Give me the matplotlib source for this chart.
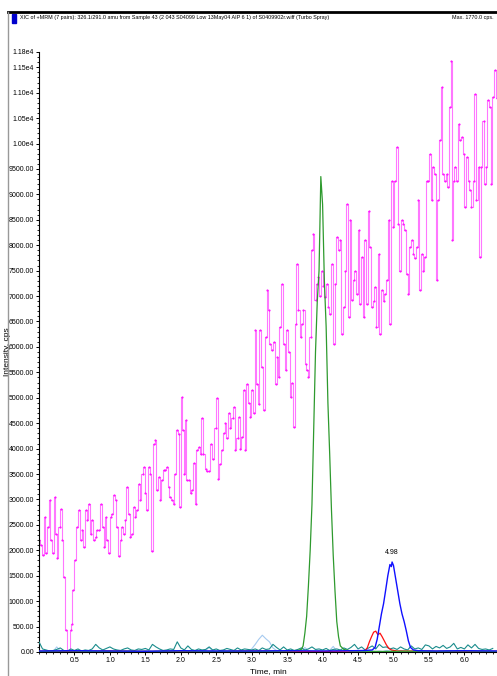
import numpy as np
import matplotlib
matplotlib.use("Agg")
from matplotlib import pyplot as plt
from matplotlib import font_manager
from matplotlib.ticker import MultipleLocator, FixedLocator, FixedFormatter

# narrow face if there is one, plain Liberation otherwise
try:
    font_manager.findfont('Liberation Sans Narrow', fallback_to_default=False)
    face = 'Liberation Sans Narrow'
except Exception:
    face = 'Liberation Sans'
plt.rcParams['font.family'] = [face, 'DejaVu Sans']

title = "XIC of +MRM (7 pairs): 326.1/291.0 amu from Sample 43 (2 043 S04099 Low 13May04 AIP 6 1) of S0409902r.wiff (Turbo Spray)"
max_text = "Max. 1770.0 cps."

# magenta trace (time in min, intensity in cps)
mag_t = [0.00,0.03,0.05,0.08,0.10,0.13,0.15,0.17,0.20,0.22,0.24,0.26,0.29,0.31,0.33,0.35,0.38,0.40,0.42,0.45,
         0.46,0.48,0.51,0.54,0.56,0.59,0.61,0.63,0.66,0.68,0.70,0.73,0.75,0.77,0.80,0.82,0.85,0.88,0.90,0.92,
         0.94,0.96,0.99,1.01,1.03,1.06,1.08,1.10,1.13,1.15,1.17,1.20,1.22,1.24,1.27,1.29,1.31,1.34,1.36,1.38,
         1.41,1.43,1.46,1.48,1.50,1.53,1.55,1.57,1.60,1.62,1.64,1.67,1.69,1.71,1.74,1.76,1.78,1.81,1.83,1.85,
         1.88,1.90,1.92,1.95,1.97,1.99,2.01,2.03,2.05,2.07,2.09,2.11,2.14,2.16,2.18,2.21,2.23,2.25,2.28,2.30,
         2.32,2.35,2.37,2.40,2.43,2.46,2.49,2.51,2.53,2.56,2.58,2.61,2.63,2.65,2.68,2.70,2.73,2.75,2.77,2.80,
         2.82,2.84,2.87,2.89,2.91,2.94,2.96,2.98,3.01,3.03,3.05,3.07,3.10,3.12,3.15,3.17,3.20,3.22,3.24,3.26,
         3.29,3.31,3.34,3.36,3.38,3.40,3.43,3.45,3.48,3.50,3.52,3.55,3.57,3.59,3.62,3.64,3.66,3.69,3.71,3.73,
         3.76,3.78,3.80,3.83,3.85,3.87,3.90,3.92,3.94,3.97,3.99,4.01,4.04,4.06,4.08,4.11,4.13,4.16,4.18,4.20,
         4.23,4.25,4.27,4.30,4.32,4.34,4.37,4.39,4.41,4.44,4.46,4.48,4.51,4.53,4.55,4.58,4.60,4.62,4.65,4.67,
         4.69,4.72,4.74,4.76,4.79,4.81,4.84,4.86,4.88,4.91,4.93,4.95,4.98,5.00,5.02,5.05,5.07,5.09,5.12,5.14,
         5.16,5.19,5.21,5.23,5.26,5.28,5.30,5.33,5.35,5.38,5.40,5.42,5.45,5.47,5.49,5.52,5.54,5.56,5.59,5.61,
         5.63,5.66,5.68,5.70,5.73,5.75,5.77,5.80,5.81,5.83,5.85,5.87,5.89,5.92,5.94,5.96,5.99,6.01,6.03,6.06,
         6.08,6.10,6.13,6.15,6.17,6.20,6.22,6.24,6.27,6.29,6.31,6.34,6.36,6.38,6.41,6.43,6.46]
mag_v = [2200,2100,1900,2660,1940,2460,2985,2200,1940,3050,2330,1840,2460,2820,2200,1480,440,0,0,440,
         560,1220,1810,2460,2790,2200,2400,2070,2790,2600,2920,2330,2600,2200,2270,2400,2400,2920,2460,2070,
         2660,2200,1940,2660,2720,3080,2980,2460,1880,2200,2460,2330,2600,3240,2720,2270,2330,2850,2660,2790,
         3310,2985,3510,3640,3120,2790,3640,3510,1980,4100,4160,3180,3440,2985,3380,3570,3570,3640,3250,3050,
         2985,2920,3510,4360,4290,2850,5010,4360,3510,4560,3380,3380,3120,3180,3710,2920,3970,4030,3900,4600,
         3900,3600,3550,3550,4100,3800,4400,5000,3400,3700,3970,4300,4500,4200,4700,4400,4600,4820,3970,4200,
         4620,4000,4230,5150,3970,5280,4900,4620,5150,4700,6330,5280,4880,6330,5600,4750,6200,7110,6720,6060,
         5930,6100,5280,5800,5410,6400,7240,6060,5540,6330,5900,5020,5300,4430,6460,7640,6720,6200,6460,6720,
         5670,5540,5410,6200,7900,8230,6920,7240,7370,7000,7500,7200,6980,7240,6790,6650,7640,6060,7240,8160,
         7900,8100,6260,6780,7500,8820,6590,8490,6920,7310,7500,7050,8290,6850,7770,6590,8100,6850,8680,7960,
         6790,6900,7180,6390,7830,6260,7110,6900,7050,7310,8490,6460,9270,8360,9270,9930,8420,7500,8490,8420,
         8290,7440,7050,7960,8100,7830,7750,7960,8880,7110,7830,7500,7770,9270,9270,9800,8880,9540,9400,7310,
         8880,10060,11110,9400,9270,9400,9140,10720,11630,8100,9270,9530,9270,10390,10060,10120,9800,8750,9730,9270,
         9080,8750,9270,10980,8880,9530,7770,9530,10450,9200,9530,10850,10720,9200,10920,11440,10900]

# green trace, peak near 4.0 min
grn_t = [0.00,0.40,0.80,1.20,1.60,2.00,2.40,2.80,3.20,3.50,3.65,3.70,3.725,3.75,3.775,3.80,3.825,3.85,3.875,3.90,
         3.925,3.95,3.975,4.00,4.025,4.05,4.075,4.10,4.125,4.15,4.175,4.20,4.225,4.25,4.30,4.40,4.80,5.20,5.60,6.00,6.46]
grn_v = [10,20,10,15,10,20,10,15,10,20,30,50,120,370,700,1300,2000,2900,4400,5900,
         6900,7500,9350,8800,7300,6400,4900,3900,2800,1900,1200,600,300,120,50,20,10,15,10,20,10]

# blue trace, peak at 4.98 min
blu_t = [0.00,0.50,1.00,1.50,2.00,2.50,3.00,3.50,4.00,4.40,4.60,4.70,4.74,4.77,4.80,4.83,4.86,4.89,4.92,4.95,
         4.97,4.98,5.00,5.03,5.06,5.09,5.12,5.15,5.18,5.21,5.24,5.28,5.35,5.60,6.00,6.46]
blu_v = [20,25,20,15,25,20,20,25,20,25,30,40,90,250,500,750,950,1220,1500,1720,
         1680,1770,1700,1450,1200,950,750,600,420,220,90,40,25,20,25,20]

# red trace, small peak near 4.75 min
red_t = [0.00,0.50,1.00,1.50,2.00,2.50,3.00,3.50,4.00,4.50,4.60,4.63,4.66,4.69,4.72,4.75,4.78,4.81,4.84,4.87,
         4.90,4.93,4.97,5.05,5.50,6.00,6.46]
red_v = [15,10,20,10,15,10,20,15,10,20,30,80,200,300,390,410,340,370,300,220,
         140,80,40,20,15,10,15]

# teal trace, noise at 0.05 min steps
teal_v = [200,60,40,20,30,50,80,30,20,60,
          30,60,20,40,30,60,150,80,40,70,
          100,60,40,30,60,80,40,30,60,50,
          70,40,150,100,60,30,40,60,50,200,
          80,40,120,50,30,60,40,50,100,40,
          60,30,40,70,50,30,80,40,60,50,
          40,60,30,80,50,60,150,90,40,100,
          40,60,30,50,80,40,60,100,50,60,
          40,70,30,50,60,40,80,50,90,150,
          60,100,40,80,120,60,150,90,100,60,
          80,50,100,60,40,120,60,80,50,140,
          120,60,110,80,130,70,100,170,60,90,
          60,140,80,150,70,50,60,40,70]
teal_t = [0.05 * i for i in range(len(teal_v))]

# light blue trace, bump near 3.15 min
lb_v = [20,10,30,20,10,100,20,10,30,20,
        10,20,10,30,20,10,20,10,30,20,
        20,10,30,20,10,20,30,10,20,10,
        30,20,10,20,10,30,20,10,20,10,
        20,10,30,20,10,20,10,30,90,20,
        10,20,30,10,20,10,20,30,10,20,
        60,150,250,330,260,200,80,30,20,10,
        20,10,30,20,10,90,20,10,20,30,
        10,20,30,110,20,10,20,30,10,20,
        10,20,10,30,20,10,20,10,30,20,
        20,10,30,20,10,20,10,30,20,10,
        30,20,10,20,10,30,20,10,20,10,
        20,10,30,20,10,20,10,20,10]
lb_t = [0.05 * i for i in range(len(lb_v))]

y_ticks = [0, 500, 1000, 1500, 2000, 2500, 3000, 3500, 4000, 4500, 5000, 5500, 6000,
           6500, 7000, 7500, 8000, 8500, 9000, 9500, 10000, 10500, 11000, 11500, 11800]
y_labels = ['%.2f' % v for v in y_ticks[:20]] + ['1.00e4', '1.05e4', '1.10e4', '1.15e4', '1.18e4']
x_ticks = [0.5, 1.0, 1.5, 2.0, 2.5, 3.0, 3.5, 4.0, 4.5, 5.0, 5.5, 6.0]

W, H = 497, 676
fig = plt.figure(figsize=(W / 100, H / 100), dpi=100)
renderer = fig.canvas.get_renderer()

# header text sized so it runs from x=20 to about x=330
hdr = fig.text(20 / W, 1 - 18 / H, title, fontsize=6.0, va='center', ha='left')
wpx = hdr.get_window_extent(renderer).width
fs = 6.0 * 312 / wpx
hdr.set_fontsize(fs)
fs_tick = 5.0
fs_lab = 6.0

ax = fig.add_axes([39 / W, 24 / H, 1 - 39 / W, (652 - 52) / H])

ax.plot(mag_t, mag_v, color='#ff77ff', lw=0.8, drawstyle='steps-mid', zorder=2)
ax.plot(mag_t, mag_v, color='#ff00ff', lw=0, marker='.', ms=1.0, zorder=2)
ax.plot(lb_t, lb_v, color='#a6caf0', lw=0.8, zorder=3)
ax.plot(teal_t, teal_v, color='#1a8c8c', lw=0.8, zorder=3)
ax.plot(red_t, red_v, color='#ff1010', lw=0.9, zorder=4)
ax.plot(grn_t, grn_v, color='#2e9a2e', lw=0.9, zorder=4)
ax.plot(blu_t, blu_v, color='#1010ff', lw=1.0, zorder=5)

ax.text(4.98, 1770 + 120, '4.98', fontsize=fs_tick, ha='center', va='bottom')

ax.set_xlim(0, 6.46)
ax.set_ylim(0, 11800)
ax.spines['top'].set_visible(False)
ax.spines['right'].set_visible(False)
ax.spines['left'].set_linewidth(0.8)
ax.spines['bottom'].set_linewidth(0.8)

ax.yaxis.set_major_locator(FixedLocator(y_ticks))
ax.yaxis.set_major_formatter(FixedFormatter(y_labels))
ax.yaxis.set_minor_locator(MultipleLocator(100))
ax.xaxis.set_major_locator(FixedLocator(x_ticks))
ax.xaxis.set_minor_locator(MultipleLocator(0.1))
ax.tick_params(axis='both', which='major', labelsize=fs_tick, length=2.5, width=0.7, pad=1)
ax.tick_params(axis='both', which='minor', length=1.3, width=0.6)

ax.set_ylabel('Intensity, cps', fontsize=fs_lab)
ax.yaxis.set_label_coords(-0.062, 0.5)
ax.set_xlabel('Time, min', fontsize=fs_lab)
ax.xaxis.set_label_coords(0.5, -0.027)

# header frame: black rule on top, grey rule on the left
fig.add_artist(plt.Line2D([8 / W, 1], [1 - 12 / H, 1 - 12 / H], color='black', lw=2))
fig.add_artist(plt.Line2D([8 / W, 8 / W], [0, 1 - 12 / H], color='#999999', lw=1))
fig.add_artist(plt.Rectangle((12 / W, 1 - 23 / H), 4 / W, 9 / H, color='#0000cc'))
fig.text(452 / W, 1 - 18 / H, max_text, fontsize=fs, va='center', ha='left')

fig.savefig('out.png', dpi=100)
